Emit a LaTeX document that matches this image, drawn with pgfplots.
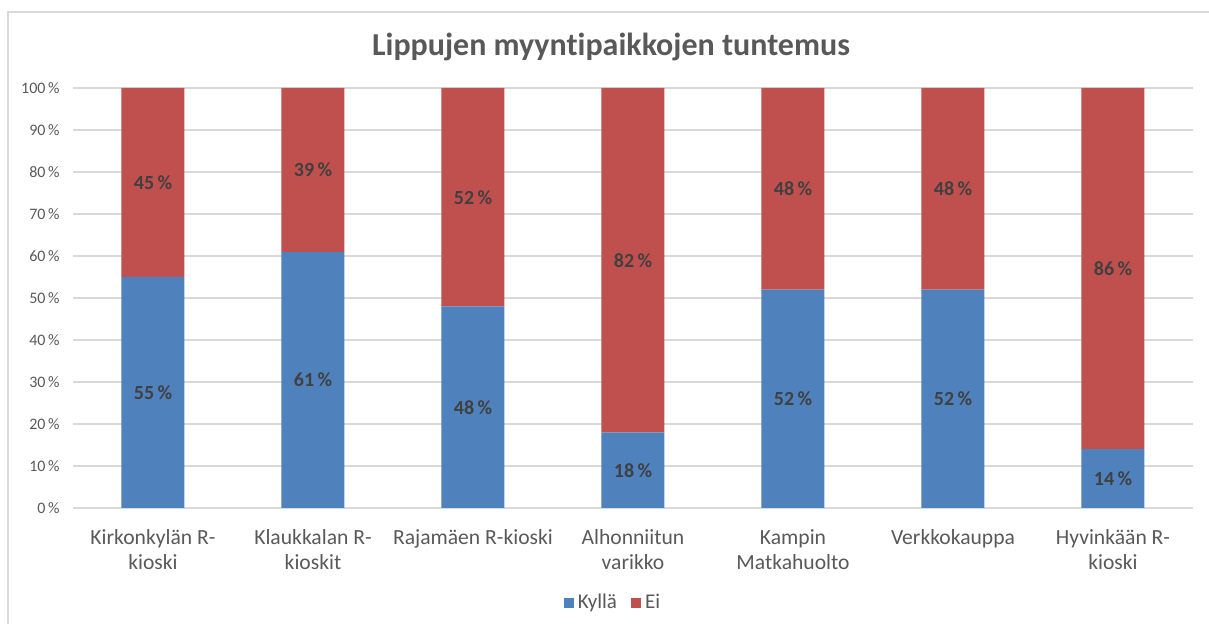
\documentclass[border=0pt]{standalone}
\usepackage{pgfplots}
\pgfplotsset{compat=1.18}
\usepackage{pgfplotstable}
\usepackage{fontspec}
\setmainfont{Carlito}[Ligatures=NoCommon]
\definecolor{kblue}{HTML}{4F81BD}
\definecolor{kred}{HTML}{C0504D}
\definecolor{txtgray}{HTML}{595959}
\definecolor{lblgray}{HTML}{404040}
\definecolor{gridgray}{HTML}{D9D9D9}
\pgfplotstableread{
x kylla ei
0 55 45
1 61 39
2 48 52
3 18 82
4 52 48
5 52 48
6 14 86
}\datatable
\begin{document}
\begin{tikzpicture}
\useasboundingbox (-36.5pt,-58pt) rectangle (568pt,254pt);
\draw[gridgray, line width=0.6pt] (-32.5pt,-70pt) -- (-32.5pt,248pt) -- (580pt,248pt);
\begin{axis}[
  at={(0,0)}, anchor=south west,
  scale only axis, width=560pt, height=210pt,
  ybar stacked, bar width=31.5pt,
  xmin=-0.5, xmax=6.5, ymin=0, ymax=100,
  axis line style={draw=none},
  major tick length=0pt,
  ymajorgrids, major grid style={gridgray, line width=0.6pt},
  xtick={0,...,6},
  xticklabels={Kirkonkylän R-\\kioski, Klaukkalan R-\\kioskit, Rajamäen R-kioski, Alhonniitun\\varikko, Kampin\\Matkahuolto, Verkkokauppa, Hyvinkään R-\\kioski},
  xticklabel style={anchor=north, inner sep=0pt, yshift=-10.5pt, align=center, text=txtgray, font=\fontsize{10.8}{12.5}\selectfont},
  ytick={0,10,...,100},
  yticklabels={0\,\%,10\,\%,20\,\%,30\,\%,40\,\%,50\,\%,60\,\%,70\,\%,80\,\%,90\,\%,100\,\%},
  yticklabel style={anchor=east, inner sep=0pt, xshift=-6.5pt, text=txtgray, font=\fontsize{8}{9.6}\selectfont},
  legend style={at={(0.483,-0.226)}, anchor=center, draw=none, fill=none, legend columns=2,
    font=\fontsize{10.5}{12}\selectfont, text=txtgray,
    /tikz/every even column/.append style={column sep=5pt}},
  legend image code/.code={\fill[#1] (0pt,-2.5pt) rectangle (5pt,2.5pt);},
  point meta=rawy,
  nodes near coords={\pgfmathprintnumber[assume math mode=true]{\pgfplotspointmeta}\,\%},
  every node near coord/.append style={anchor=center, font=\fontsize{10}{11}\selectfont\bfseries, text=lblgray},
]
\addplot[fill=kblue, draw=none] table[x=x, y=kylla] {\datatable};
\addlegendentry{Kyllä}
\addplot[fill=kred, draw=none] table[x=x, y=ei] {\datatable};
\addlegendentry{Ei}
\end{axis}
\node[text=txtgray, font=\fontsize{16}{19}\selectfont\bfseries] at (269pt,230.5pt) {Lippujen myyntipaikkojen tuntemus};
\end{tikzpicture}
\end{document}
